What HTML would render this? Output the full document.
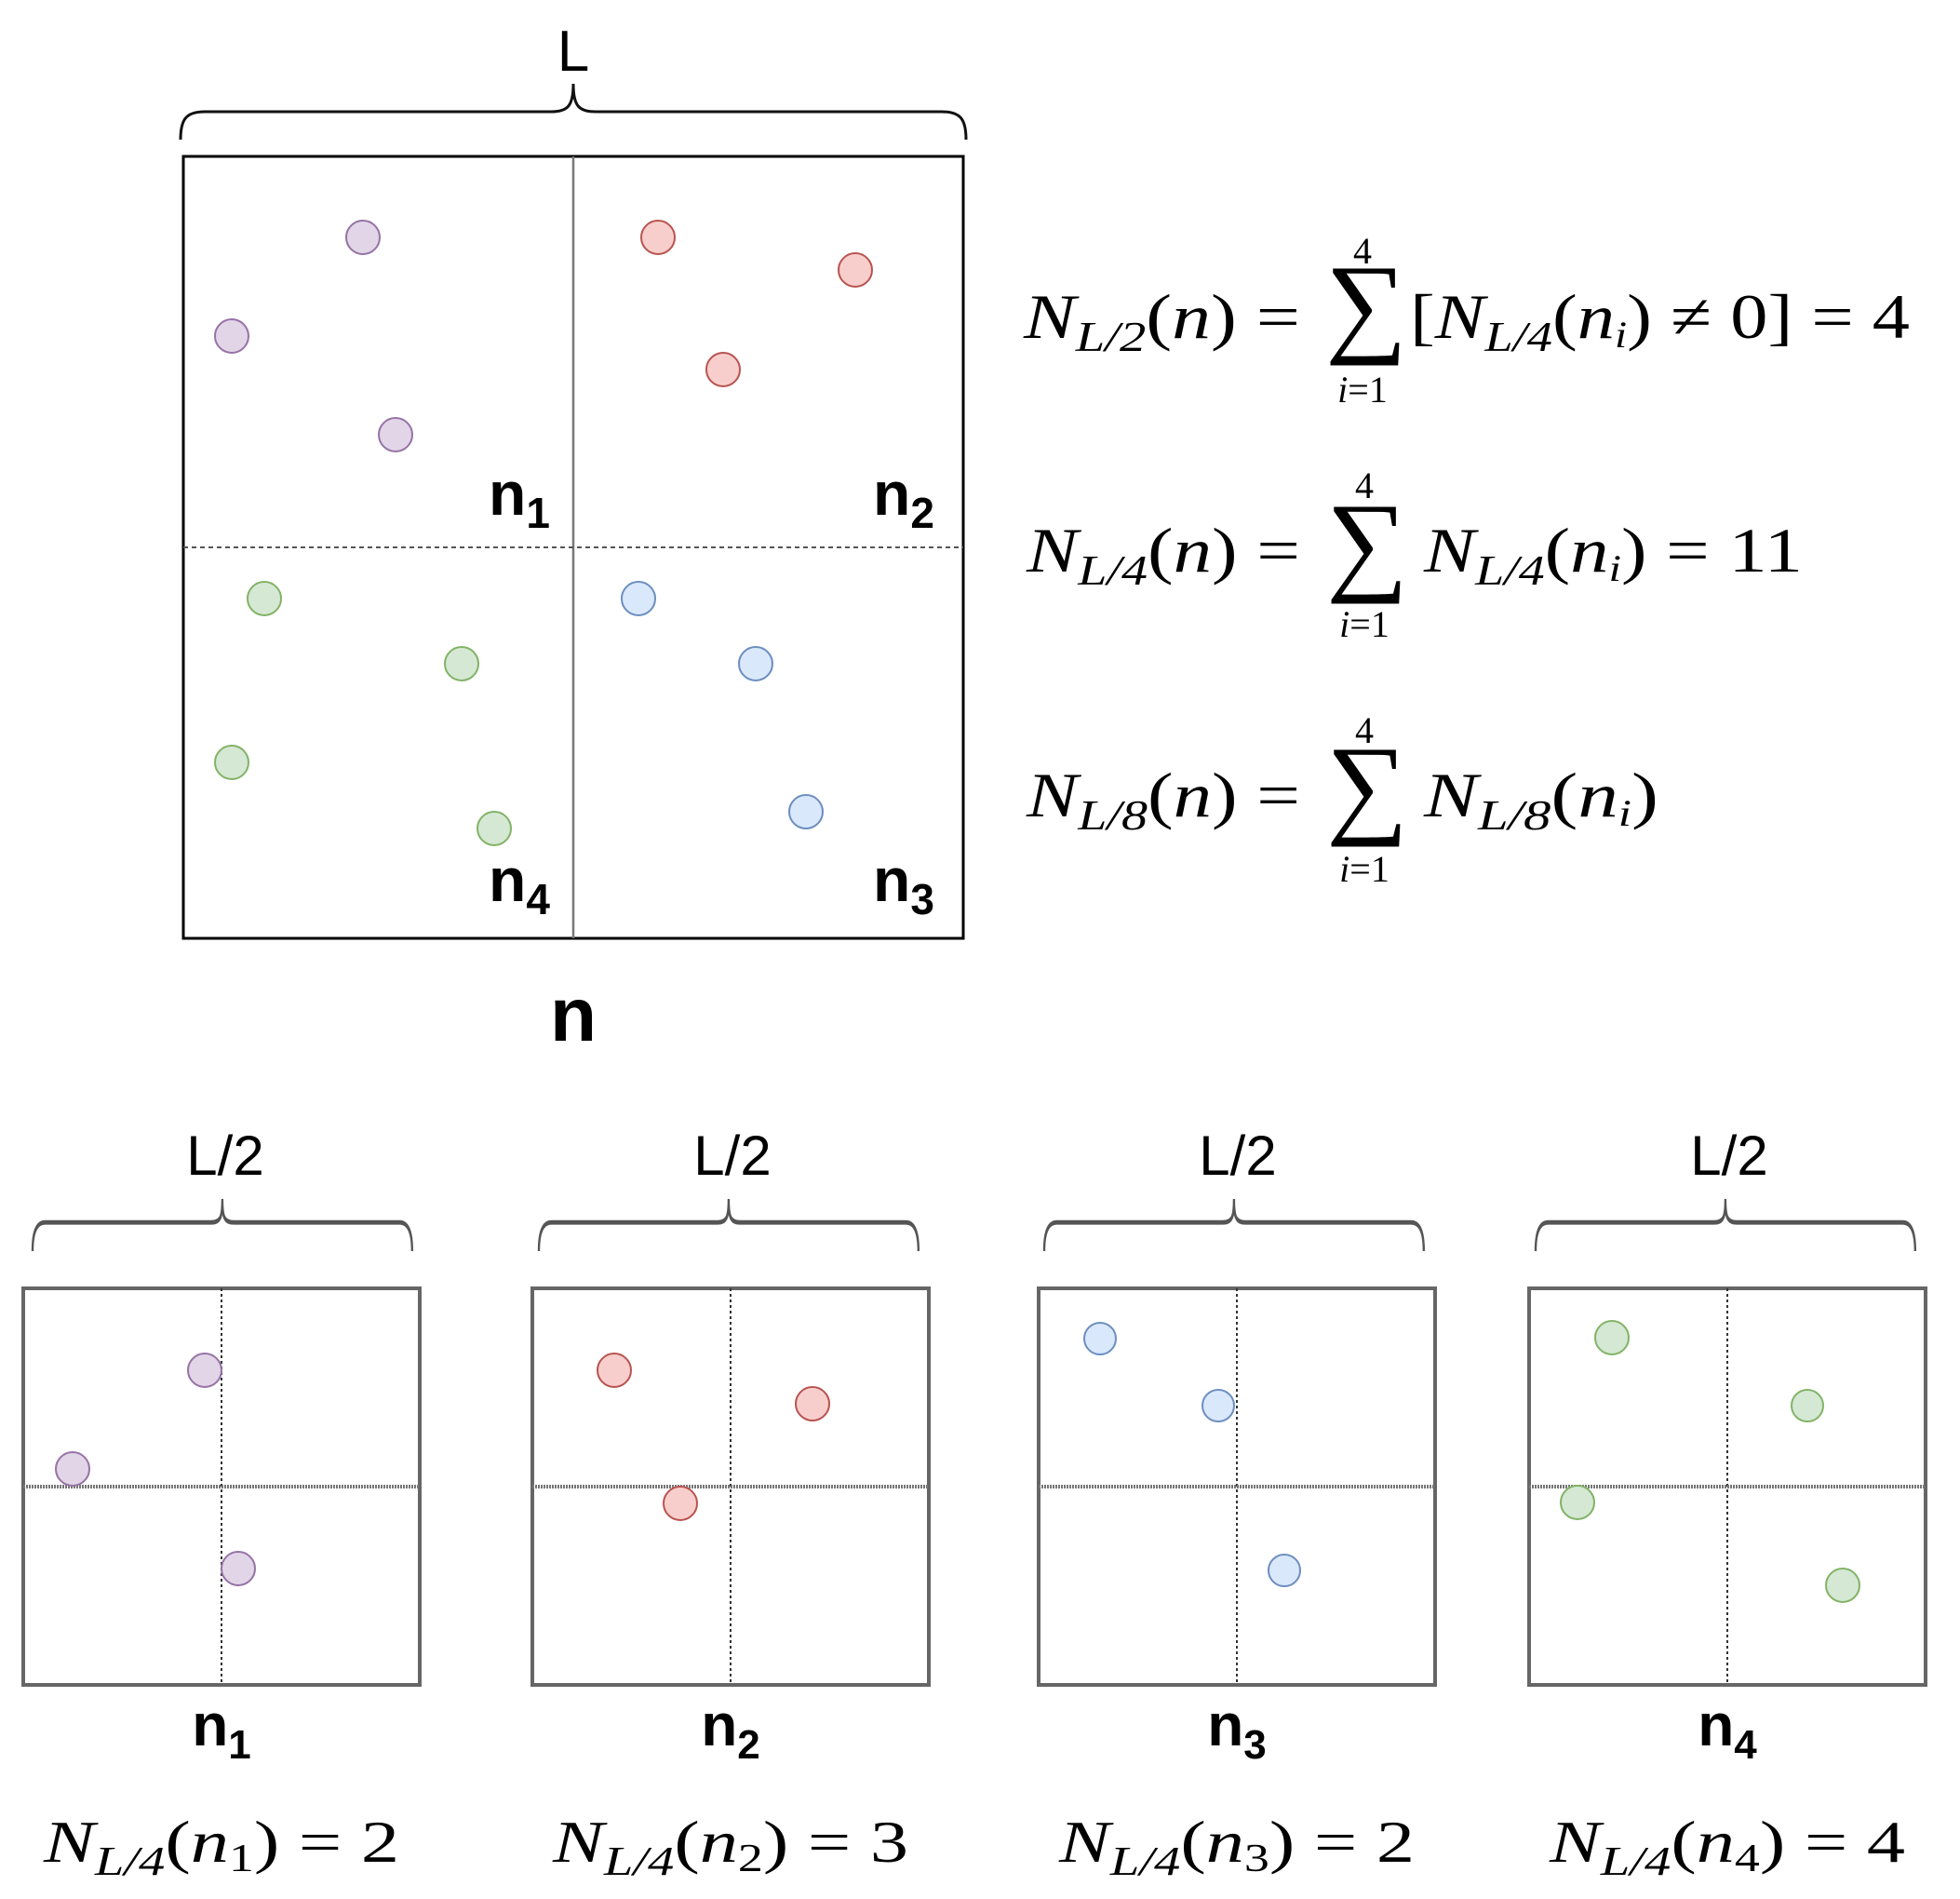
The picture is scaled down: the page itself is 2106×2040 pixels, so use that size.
<!DOCTYPE html>
<html><head><meta charset="utf-8"><style>
html,body{margin:0;padding:0;background:#fff;}
svg{display:block;}
.m{font-family:"Liberation Serif",serif;font-style:italic;}
.r{font-family:"Liberation Serif",serif;font-style:normal;}
.b{font-family:"Liberation Sans",sans-serif;font-weight:bold;}
.s{font-family:"Liberation Sans",sans-serif;}
</style></head><body>
<svg width="2106" height="2040" viewBox="0 0 2106 2040" xmlns="http://www.w3.org/2000/svg">
<defs>
<path id="brace1" d="M0 0 C0 -14 6 -22 20 -22 L285 -22 C300 -22 303 -26 303 -40 C303 -26 306 -22 321 -22 L586 -22 C600 -22 606 -14 606 0" fill="none"/>
</defs>
<!-- top brace -->
<text x="616" y="76" class="s" font-size="62" text-anchor="middle">L</text>
<path d="M194 150 C194 128 200 120 220 120 L592 120 C610 120 616 114 616 90 C616 114 622 120 640 120 L1012 120 C1032 120 1038 128 1038 150" fill="none" stroke="#111" stroke-width="3"/>
<!-- big box -->
<rect x="197" y="168" width="838" height="840" fill="#fff" stroke="#000" stroke-width="3"/>
<line x1="616" y1="168" x2="616" y2="1008" stroke="#777" stroke-width="2.5"/>
<line x1="197" y1="588" x2="1035" y2="588" stroke="#555" stroke-width="2" stroke-dasharray="5,4"/>
<g stroke-width="2">
<circle cx="390" cy="255" r="18" fill="#e1d5e7" stroke="#9673a6"/>
<circle cx="249" cy="361" r="18" fill="#e1d5e7" stroke="#9673a6"/>
<circle cx="425" cy="467" r="18" fill="#e1d5e7" stroke="#9673a6"/>
<circle cx="707" cy="255" r="18" fill="#f8cecc" stroke="#b85450"/>
<circle cx="919" cy="290" r="18" fill="#f8cecc" stroke="#b85450"/>
<circle cx="777" cy="397" r="18" fill="#f8cecc" stroke="#b85450"/>
<circle cx="284" cy="643" r="18" fill="#d5e8d4" stroke="#82b366"/>
<circle cx="496" cy="713" r="18" fill="#d5e8d4" stroke="#82b366"/>
<circle cx="249" cy="819" r="18" fill="#d5e8d4" stroke="#82b366"/>
<circle cx="531" cy="890" r="18" fill="#d5e8d4" stroke="#82b366"/>
<circle cx="686" cy="643" r="18" fill="#dae8fc" stroke="#6c8ebf"/>
<circle cx="812" cy="713" r="18" fill="#dae8fc" stroke="#6c8ebf"/>
<circle cx="866" cy="872" r="18" fill="#dae8fc" stroke="#6c8ebf"/>
</g>
<g class="b" font-size="66">
<text x="525" y="553">n<tspan font-size="46" dy="14">1</tspan></text>
<text x="938" y="553">n<tspan font-size="46" dy="14">2</tspan></text>
<text x="525" y="968">n<tspan font-size="46" dy="14">4</tspan></text>
<text x="938" y="968">n<tspan font-size="46" dy="14">3</tspan></text>
</g>
<text x="616" y="1118" class="b" font-size="82" text-anchor="middle">n</text>

<!-- equations -->
<g font-size="68">
<!-- eq1 -->
<text x="1100" y="363" class="m" textLength="297" lengthAdjust="spacingAndGlyphs">N<tspan font-size="46" dy="14">L/2</tspan><tspan class="r" dy="-14">(</tspan>n<tspan class="r">) =</tspan></text>
<text x="1424" y="367" class="r" font-size="120" textLength="88" lengthAdjust="spacingAndGlyphs">∑</text>
<text x="1464" y="283" class="r" font-size="40" text-anchor="middle">4</text>
<text x="1464" y="432" class="m" font-size="40" text-anchor="middle">i<tspan class="r">=1</tspan></text>
<text x="1515" y="363" class="r" textLength="537" lengthAdjust="spacingAndGlyphs">[<tspan class="m">N</tspan><tspan class="m" font-size="46" dy="14">L/4</tspan><tspan dy="-14">(</tspan><tspan class="m">n</tspan><tspan class="m" font-size="40" dy="10">i</tspan><tspan dy="-10">) ≠ 0] = 4</tspan></text>
<!-- eq2 -->
<text x="1103" y="614" class="m" textLength="294" lengthAdjust="spacingAndGlyphs">N<tspan font-size="46" dy="14">L/4</tspan><tspan class="r" dy="-14">(</tspan>n<tspan class="r">) =</tspan></text>
<text x="1425" y="623" class="r" font-size="120" textLength="88" lengthAdjust="spacingAndGlyphs">∑</text>
<text x="1466" y="535" class="r" font-size="40" text-anchor="middle">4</text>
<text x="1466" y="684" class="m" font-size="40" text-anchor="middle">i<tspan class="r">=1</tspan></text>
<text x="1530" y="614" class="m" textLength="407" lengthAdjust="spacingAndGlyphs">N<tspan font-size="46" dy="14">L/4</tspan><tspan class="r" dy="-14">(</tspan>n<tspan font-size="40" dy="10">i</tspan><tspan class="r" dy="-10">) = 11</tspan></text>
<!-- eq3 -->
<text x="1103" y="877" class="m" textLength="294" lengthAdjust="spacingAndGlyphs">N<tspan font-size="46" dy="14">L/8</tspan><tspan class="r" dy="-14">(</tspan>n<tspan class="r">) =</tspan></text>
<text x="1425" y="884" class="r" font-size="120" textLength="88" lengthAdjust="spacingAndGlyphs">∑</text>
<text x="1466" y="798" class="r" font-size="40" text-anchor="middle">4</text>
<text x="1466" y="947" class="m" font-size="40" text-anchor="middle">i<tspan class="r">=1</tspan></text>
<text x="1530" y="877" class="m" textLength="252" lengthAdjust="spacingAndGlyphs">N<tspan font-size="46" dy="14">L/8</tspan><tspan class="r" dy="-14">(</tspan>n<tspan font-size="40" dy="10">i</tspan><tspan class="r" dy="-10">)</tspan></text>
</g>

<!-- bottom panels -->
<g>
<text x="242" y="1262" class="s" font-size="60" text-anchor="middle">L/2</text>
<use href="#brace1" transform="translate(35,1344) scale(0.673,1.4)" stroke="#555" stroke-width="3.5"/>
<rect x="25" y="1384" width="426" height="426" fill="#fff" stroke="#666" stroke-width="4"/>
<line x1="238" y1="1384" x2="238" y2="1810" stroke="#333" stroke-width="2" stroke-dasharray="3,3"/>
<line x1="25" y1="1597" x2="451" y2="1597" stroke="#777" stroke-width="4" stroke-dasharray="2,1"/>
<text x="238" y="1875" class="b" font-size="64" text-anchor="middle">n<tspan font-size="44" dy="14">1</tspan></text>
<text x="238" y="2000" class="m" font-size="64" text-anchor="middle" textLength="382" lengthAdjust="spacingAndGlyphs">N<tspan font-size="44" dy="14">L/4</tspan><tspan class="r" dy="-14">(</tspan>n<tspan class="r" font-size="42" dy="10">1</tspan><tspan class="r" dy="-10">) = 2</tspan></text>
</g>
<g>
<text x="787" y="1262" class="s" font-size="60" text-anchor="middle">L/2</text>
<use href="#brace1" transform="translate(579,1344) scale(0.673,1.4)" stroke="#555" stroke-width="3.5"/>
<rect x="572" y="1384" width="426" height="426" fill="#fff" stroke="#666" stroke-width="4"/>
<line x1="785" y1="1384" x2="785" y2="1810" stroke="#333" stroke-width="2" stroke-dasharray="3,3"/>
<line x1="572" y1="1597" x2="998" y2="1597" stroke="#777" stroke-width="4" stroke-dasharray="2,1"/>
<text x="785" y="1875" class="b" font-size="64" text-anchor="middle">n<tspan font-size="44" dy="14">2</tspan></text>
<text x="785" y="2000" class="m" font-size="64" text-anchor="middle" textLength="382" lengthAdjust="spacingAndGlyphs">N<tspan font-size="44" dy="14">L/4</tspan><tspan class="r" dy="-14">(</tspan>n<tspan class="r" font-size="42" dy="10">2</tspan><tspan class="r" dy="-10">) = 3</tspan></text>
</g>
<g>
<text x="1330" y="1262" class="s" font-size="60" text-anchor="middle">L/2</text>
<use href="#brace1" transform="translate(1122,1344) scale(0.673,1.4)" stroke="#555" stroke-width="3.5"/>
<rect x="1116" y="1384" width="426" height="426" fill="#fff" stroke="#666" stroke-width="4"/>
<line x1="1329" y1="1384" x2="1329" y2="1810" stroke="#333" stroke-width="2" stroke-dasharray="3,3"/>
<line x1="1116" y1="1597" x2="1542" y2="1597" stroke="#777" stroke-width="4" stroke-dasharray="2,1"/>
<text x="1329" y="1875" class="b" font-size="64" text-anchor="middle">n<tspan font-size="44" dy="14">3</tspan></text>
<text x="1329" y="2000" class="m" font-size="64" text-anchor="middle" textLength="382" lengthAdjust="spacingAndGlyphs">N<tspan font-size="44" dy="14">L/4</tspan><tspan class="r" dy="-14">(</tspan>n<tspan class="r" font-size="42" dy="10">3</tspan><tspan class="r" dy="-10">) = 2</tspan></text>
</g>
<g>
<text x="1858" y="1262" class="s" font-size="60" text-anchor="middle">L/2</text>
<use href="#brace1" transform="translate(1650,1344) scale(0.673,1.4)" stroke="#555" stroke-width="3.5"/>
<rect x="1643" y="1384" width="426" height="426" fill="#fff" stroke="#666" stroke-width="4"/>
<line x1="1856" y1="1384" x2="1856" y2="1810" stroke="#333" stroke-width="2" stroke-dasharray="3,3"/>
<line x1="1643" y1="1597" x2="2069" y2="1597" stroke="#777" stroke-width="4" stroke-dasharray="2,1"/>
<text x="1856" y="1875" class="b" font-size="64" text-anchor="middle">n<tspan font-size="44" dy="14">4</tspan></text>
<text x="1856" y="2000" class="m" font-size="64" text-anchor="middle" textLength="382" lengthAdjust="spacingAndGlyphs">N<tspan font-size="44" dy="14">L/4</tspan><tspan class="r" dy="-14">(</tspan>n<tspan class="r" font-size="42" dy="10">4</tspan><tspan class="r" dy="-10">) = 4</tspan></text>
</g>
<g stroke-width="2">
<circle cx="220" cy="1472" r="18" fill="#e1d5e7" stroke="#9673a6"/>
<circle cx="78" cy="1578" r="18" fill="#e1d5e7" stroke="#9673a6"/>
<circle cx="256" cy="1685" r="18" fill="#e1d5e7" stroke="#9673a6"/>
<circle cx="660" cy="1472" r="18" fill="#f8cecc" stroke="#b85450"/>
<circle cx="873" cy="1508" r="18" fill="#f8cecc" stroke="#b85450"/>
<circle cx="731" cy="1615" r="18" fill="#f8cecc" stroke="#b85450"/>
<circle cx="1182" cy="1438" r="17" fill="#dae8fc" stroke="#6c8ebf"/>
<circle cx="1309" cy="1510" r="17" fill="#dae8fc" stroke="#6c8ebf"/>
<circle cx="1380" cy="1687" r="17" fill="#dae8fc" stroke="#6c8ebf"/>
<circle cx="1732" cy="1437" r="18" fill="#d5e8d4" stroke="#82b366"/>
<circle cx="1942" cy="1510" r="17" fill="#d5e8d4" stroke="#82b366"/>
<circle cx="1695" cy="1614" r="18" fill="#d5e8d4" stroke="#82b366"/>
<circle cx="1980" cy="1703" r="18" fill="#d5e8d4" stroke="#82b366"/>
</g>
</svg>
</body></html>
